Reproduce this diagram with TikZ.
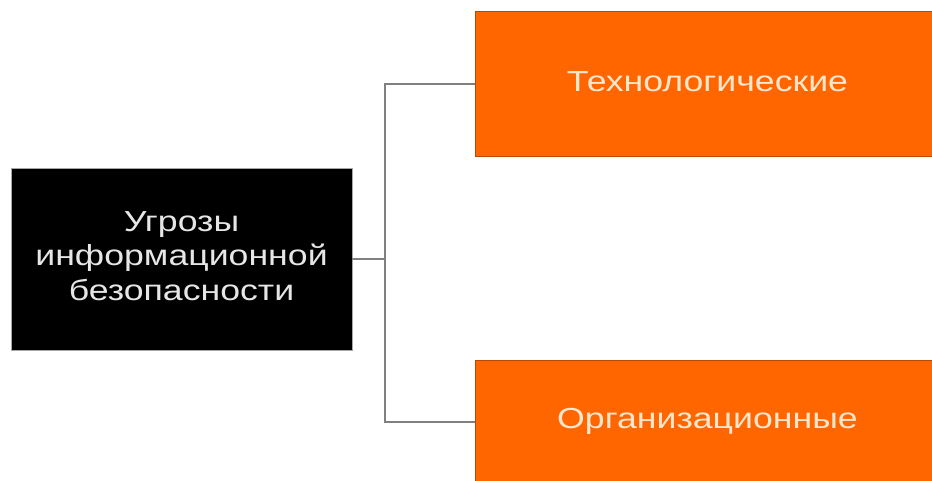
\documentclass[tikz,border=0pt]{standalone}
\usepackage{fontspec}
\usepackage{graphicx}
\setmainfont{Liberation Sans}
\definecolor{threatorange}{HTML}{FF6600}
\definecolor{orangeedge}{HTML}{B84A00}
\definecolor{lighttext}{HTML}{E6E6E6}
\definecolor{peachtext}{HTML}{FFE6CC}
\definecolor{linkgray}{HTML}{808080}
\newcommand{\widetext}[2]{\scalebox{1.23}[1]{\fontsize{#1}{34.5}\selectfont\begin{tabular}{@{}c@{}}#2\end{tabular}}}
\begin{document}
\begin{tikzpicture}[x=1pt,y=-1pt,
  rootbox/.style={rectangle, fill=black, draw=gray!70, line width=0.8pt,
    inner sep=0pt, minimum width=341pt, minimum height=182pt, text=lighttext},
  kindbox/.style={rectangle, fill=threatorange, draw=orangeedge, line width=1pt,
    inner sep=0pt, minimum width=520pt},
  kindlabel/.style={text=peachtext, inner sep=0pt},
  link/.style={draw=linkgray, line width=2pt}]
\useasboundingbox (0,0) rectangle (932,481);
\clip (0,0) rectangle (932,481);

% root of the classification
\node[rootbox] (root) at (181.5,259) {\widetext{29}{Угрозы\\информационной\\безопасности}};

% two kinds of threats (boxes run off the right edge)
\node[kindbox, minimum height=145pt] (tech) at (735,84.5) {};
\node[kindbox, minimum height=123pt] (org) at (735,421.5) {};
\node[kindlabel] (techtext) at (707.5,84.5) {\widetext{29}{Технологические}};
\node[kindlabel] (orgtext) at (707.5,421.5) {\widetext{29}{Организационные}};

% bracket connector
\coordinate (fork) at (385,259);
\draw[link] (root.east) -- (fork);
\draw[link] (fork) |- (tech.west);
\draw[link] (fork) |- (org.west);
\end{tikzpicture}
\end{document}
